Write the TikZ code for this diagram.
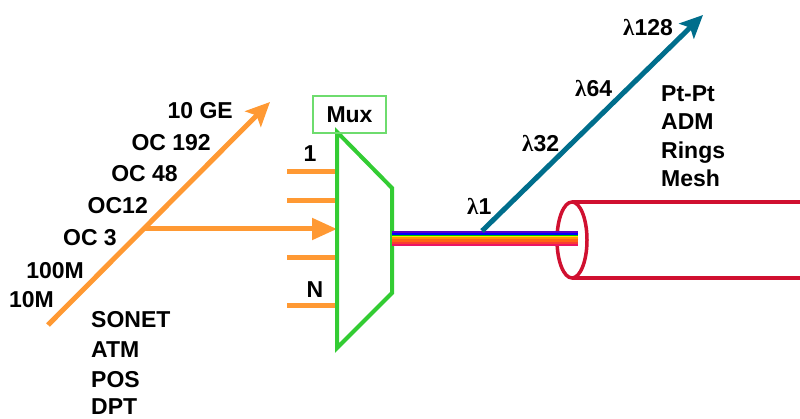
\documentclass[tikz,border=0pt]{standalone}
\usepackage{fontspec}
\setmainfont{Liberation Sans}
\newfontfamily\lamfont{Liberation Serif}
\usepackage{xcolor}
\usetikzlibrary{arrows.meta}
\definecolor{rateOrange}{RGB}{255,153,51}
\definecolor{muxGreen}{RGB}{51,204,51}
\definecolor{muxBox}{RGB}{110,220,110}
\definecolor{fiberRed}{RGB}{208,16,48}
\definecolor{lamTeal}{RGB}{0,110,140}
\definecolor{bandViolet}{RGB}{90,0,200}
\definecolor{bandBlue}{RGB}{0,0,255}
\definecolor{bandGreen}{RGB}{0,200,0}
\definecolor{bandYellow}{RGB}{255,230,0}
\definecolor{bandOrange}{RGB}{255,150,0}
\definecolor{bandDeep}{RGB}{255,100,20}
\definecolor{bandRed}{RGB}{250,60,50}
\definecolor{bandPink}{RGB}{235,20,100}
\newcommand{\lam}[1]{{\lamfont λ}#1}
\tikzset{lbl/.style={inner sep=0pt}}

\begin{document}
\begin{tikzpicture}[x=1pt,y=-1pt,font=\fontsize{23}{23}\selectfont\bfseries]
  \useasboundingbox (0,0) rectangle (800,419);
  % rates
  \coordinate (rateLo) at (48,325);
  \coordinate (rateHi) at (270,102);
  \coordinate (rateTap) at (143,229);
  \coordinate (muxIn) at (337,229);
  \draw[rateOrange,line width=5pt,-{Stealth[length=24pt,width=22pt,inset=5pt]}] (rateLo) -- (rateHi);
  \draw[rateOrange,line width=5pt,-{Triangle[length=25pt,width=21pt]}] (rateTap) -- (muxIn);
  \node[lbl,anchor=base east] (r10g) at (233,118.5) {10 GE};
  \node[lbl,anchor=base east] (r192) at (211,150.5) {OC 192};
  \node[lbl,anchor=base east] (r48) at (178,181.5) {OC 48};
  \node[lbl,anchor=base east] (r12) at (148,213.5) {OC12};
  \node[lbl,anchor=base east] (r3) at (117,245.5) {OC 3};
  \node[lbl,anchor=base east] (r100m) at (84,278.5) {100M};
  \node[lbl,anchor=base east] (r10m) at (54,307.5) {10M};
  \node[lbl,anchor=base west] (sonet) at (91,328) {SONET};
  \node[lbl,anchor=base west] (atm) at (91,357) {ATM};
  \node[lbl,anchor=base west] (pos) at (91,387) {POS};
  \node[lbl,anchor=base west] (dpt) at (91,414) {DPT};
  % inputs
  \foreach \y [count=\i] in {172,201,258,306} {
    \coordinate (stubL\i) at (287,\y);
    \coordinate (stubR\i) at (337,\y);
    \draw[rateOrange,line width=5pt] (stubL\i) -- (stubR\i);
  }
  \node[lbl,anchor=base] (inFirst) at (310,162) {1};
  \node[lbl,anchor=base] (inLast) at (315,298) {N};
  % mux
  \draw[muxGreen,line width=4pt,line join=miter] (337,132) -- (392,188) -- (392,293) -- (337,348) -- cycle;
  \node[draw=muxBox,line width=1.5pt,minimum width=73pt,minimum height=37pt,inner sep=0pt] (mux) at (349.5,114.5) {Mux};
  % fibre
  \draw[fiberRed,line width=3.5pt] (572,202) -- (800,202);
  \draw[fiberRed,line width=3.5pt] (572,278) -- (800,278);
  \draw[fiberRed,line width=3.5pt] (572,240) ellipse [x radius=15,y radius=38];
  \fill[bandViolet] (392,231) rectangle (578,233);
  \fill[bandBlue] (392,233) rectangle (578,235);
  \fill[bandGreen] (392,235) rectangle (578,236);
  \fill[bandYellow] (392,236) rectangle (578,237);
  \fill[bandOrange] (392,237) rectangle (578,239);
  \fill[bandDeep] (392,239) rectangle (578,242);
  \fill[bandRed] (392,242) rectangle (578,244);
  \fill[bandPink] (392,244) rectangle (578,246);
  % wavelengths
  \coordinate (lamLo) at (482,231);
  \coordinate (lamHi) at (703,15);
  \draw[lamTeal,line width=5pt,-{Stealth[length=23pt,width=21pt,inset=5pt]}] (lamLo) -- (lamHi);
  \node[lbl,anchor=base west] (lam1) at (467,215) {\lam{1}};
  \node[lbl,anchor=base west] (lam32) at (522,152) {\lam{32}};
  \node[lbl,anchor=base west] (lam64) at (575,97) {\lam{64}};
  \node[lbl,anchor=base west] (lam128) at (623,36) {\lam{128}};
  \node[lbl,anchor=base west] (ptpt) at (661,101.5) {Pt-Pt};
  \node[lbl,anchor=base west] (adm) at (661,129.5) {ADM};
  \node[lbl,anchor=base west] (rings) at (661,158.5) {Rings};
  \node[lbl,anchor=base west] (mesh) at (661,186.5) {Mesh};
\end{tikzpicture}
\end{document}
